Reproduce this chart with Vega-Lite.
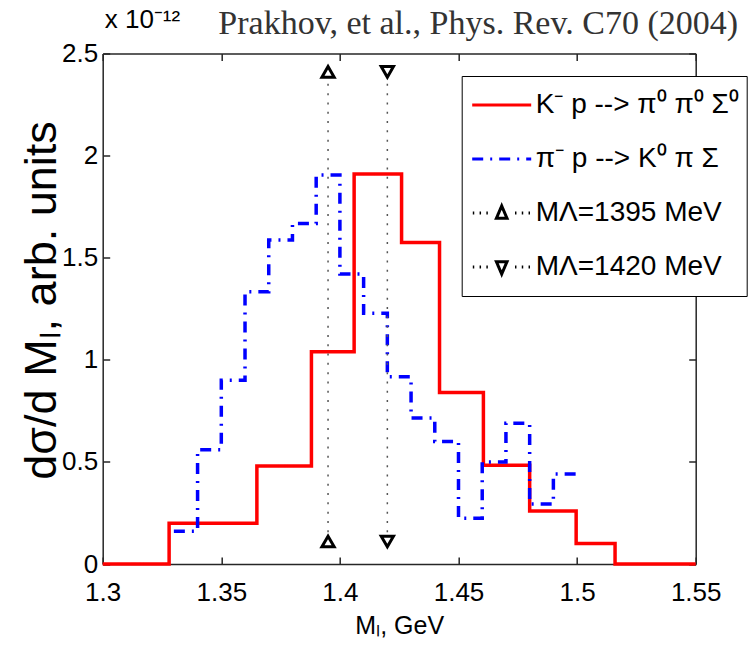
{
  "$schema": "https://vega.github.io/schema/vega-lite/v6.json",
  "width": 593,
  "height": 510.5,
  "autosize": {"type": "none"},
  "padding": {"left": 102.7, "top": 53.5, "right": 56.3, "bottom": 85},
  "background": "white",
  "config": {
    "view": {"stroke": null},
    "font": "Liberation Sans",
    "axis": {
      "grid": false,
      "domainColor": "#262626",
      "domainWidth": 1.5,
      "tickColor": "#262626",
      "tickWidth": 1.5,
      "labelColor": "black",
      "labelFont": "Liberation Sans",
      "labelFontSize": 26,
      "titleFont": "Liberation Sans",
      "titleFontWeight": "normal",
      "titleColor": "black"
    }
  },
  "title": {
    "text": "Prakhov, et al., Phys. Rev. C70 (2004)",
    "font": "Liberation Serif",
    "fontSize": 34,
    "fontWeight": "normal",
    "color": "#333333",
    "anchor": "middle",
    "frame": "group",
    "dx": 79,
    "baseline": "alphabetic",
    "offset": -61
  },
  "datasets": {
    "hist": [
      {"series": "K⁻ p --> π⁰ π⁰ Σ⁰", "x": 1.3, "y": 0},
      {"series": "K⁻ p --> π⁰ π⁰ Σ⁰", "x": 1.328, "y": 0.2},
      {"series": "K⁻ p --> π⁰ π⁰ Σ⁰", "x": 1.365, "y": 0.48},
      {"series": "K⁻ p --> π⁰ π⁰ Σ⁰", "x": 1.388, "y": 1.04},
      {"series": "K⁻ p --> π⁰ π⁰ Σ⁰", "x": 1.406, "y": 1.91},
      {"series": "K⁻ p --> π⁰ π⁰ Σ⁰", "x": 1.426, "y": 1.575},
      {"series": "K⁻ p --> π⁰ π⁰ Σ⁰", "x": 1.442, "y": 0.84},
      {"series": "K⁻ p --> π⁰ π⁰ Σ⁰", "x": 1.4605, "y": 0.483},
      {"series": "K⁻ p --> π⁰ π⁰ Σ⁰", "x": 1.48, "y": 0.26},
      {"series": "K⁻ p --> π⁰ π⁰ Σ⁰", "x": 1.4996, "y": 0.1},
      {"series": "K⁻ p --> π⁰ π⁰ Σ⁰", "x": 1.516, "y": 0},
      {"series": "K⁻ p --> π⁰ π⁰ Σ⁰", "x": 1.55, "y": 0},
      {"series": "π⁻ p --> K⁰ π Σ", "x": 1.33, "y": 0.16},
      {"series": "π⁻ p --> K⁰ π Σ", "x": 1.34, "y": 0.56},
      {"series": "π⁻ p --> K⁰ π Σ", "x": 1.35, "y": 0.9},
      {"series": "π⁻ p --> K⁰ π Σ", "x": 1.36, "y": 1.333},
      {"series": "π⁻ p --> K⁰ π Σ", "x": 1.37, "y": 1.587},
      {"series": "π⁻ p --> K⁰ π Σ", "x": 1.38, "y": 1.668},
      {"series": "π⁻ p --> K⁰ π Σ", "x": 1.39, "y": 1.905},
      {"series": "π⁻ p --> K⁰ π Σ", "x": 1.4, "y": 1.42},
      {"series": "π⁻ p --> K⁰ π Σ", "x": 1.41, "y": 1.228},
      {"series": "π⁻ p --> K⁰ π Σ", "x": 1.42, "y": 0.917},
      {"series": "π⁻ p --> K⁰ π Σ", "x": 1.43, "y": 0.715},
      {"series": "π⁻ p --> K⁰ π Σ", "x": 1.44, "y": 0.6},
      {"series": "π⁻ p --> K⁰ π Σ", "x": 1.45, "y": 0.224},
      {"series": "π⁻ p --> K⁰ π Σ", "x": 1.46, "y": 0.5},
      {"series": "π⁻ p --> K⁰ π Σ", "x": 1.47, "y": 0.689},
      {"series": "π⁻ p --> K⁰ π Σ", "x": 1.48, "y": 0.294},
      {"series": "π⁻ p --> K⁰ π Σ", "x": 1.49, "y": 0.441},
      {"series": "π⁻ p --> K⁰ π Σ", "x": 1.5, "y": 0.441}
    ],
    "vlines": [
      {"series": "MΛ=1395 MeV", "x": 1.395, "y": 0.11},
      {"series": "MΛ=1395 MeV", "x": 1.395, "y": 2.41},
      {"series": "MΛ=1420 MeV", "x": 1.42, "y": 0.11},
      {"series": "MΛ=1420 MeV", "x": 1.42, "y": 2.41}
    ],
    "markers": [
      {"series": "MΛ=1395 MeV", "x": 1.395, "y": 2.41, "dir": "up"},
      {"series": "MΛ=1395 MeV", "x": 1.395, "y": 0.11, "dir": "up"},
      {"series": "MΛ=1420 MeV", "x": 1.42, "y": 2.41, "dir": "down"},
      {"series": "MΛ=1420 MeV", "x": 1.42, "y": 0.11, "dir": "down"}
    ],
    "exponent": [
      {"x": 1.3, "y": 2.5, "label": "x 10⁻¹²"}
    ]
  },
  "resolve": {"axis": {"x": "independent", "y": "independent"}},
  "layer": [
    {
      "data": {"name": "hist"},
      "mark": {"type": "line", "interpolate": "step-after", "strokeWidth": 3.5},
      "encoding": {
        "x": {
          "field": "x", "type": "quantitative",
          "scale": {"domain": [1.3, 1.55], "nice": false, "zero": false},
          "axis": {
            "orient": "bottom", "values": [1.3, 1.35, 1.4, 1.45, 1.5, 1.55], "format": "~g",
            "tickSize": -7, "labelPadding": 22, "labelFlush": false, "labelOverlap": false,
            "title": "Mₗ, GeV", "titleFontSize": 25, "titlePadding": 8
          }
        },
        "y": {
          "field": "y", "type": "quantitative",
          "scale": {"domain": [0, 2.5], "nice": false, "zero": true},
          "axis": {
            "orient": "left", "values": [0, 0.5, 1, 1.5, 2, 2.5], "format": "~g",
            "tickSize": -7, "labelPadding": 12, "labelOverlap": false, "labelFlush": false,
            "title": "dσ/d Mₗ, arb. units", "titleFontSize": 45, "titleX": -38, "titleY": 246.5
          }
        },
        "color": {
          "field": "series", "type": "nominal",
          "scale": {
            "domain": ["K⁻ p --> π⁰ π⁰ Σ⁰", "π⁻ p --> K⁰ π Σ", "MΛ=1395 MeV", "MΛ=1420 MeV"],
            "range": ["#ff0000", "#0000ff", "#000000", "#000000"]
          },
          "legend": {
            "title": null, "orient": "none", "legendX": 359, "legendY": 22.5,
            "strokeColor": "black", "fillColor": "white", "padding": 7,
            "symbolSize": 3481, "symbolStrokeWidth": 3, "symbolType": "stroke",
            "symbolOffset": 2, "clipHeight": 44,
            "labelFont": "Liberation Sans", "labelFontSize": 28, "labelColor": "black",
            "labelLimit": 500, "labelOffset": 3, "rowPadding": 10,
            "encode": {
              "symbols": {
                "update": {
                  "shape": {"signal": "indexof(datum.label, '1395') >= 0 ? 'M-0.98,0h0.05M-0.75,0h0.05M-0.52,0h0.05M0.45,0h0.05M0.68,0h0.05M0.91,0h0.05M-0.18,0.18L0,-0.24L0.18,0.18Z' : indexof(datum.label, '1420') >= 0 ? 'M-0.98,0h0.05M-0.75,0h0.05M-0.52,0h0.05M0.45,0h0.05M0.68,0h0.05M0.91,0h0.05M-0.18,-0.18L0,0.24L0.18,-0.18Z' : 'M-1,0H1'"}
                }
              }
            }
          }
        },
        "strokeDash": {
          "field": "series", "type": "nominal",
          "scale": {
            "domain": ["K⁻ p --> π⁰ π⁰ Σ⁰", "π⁻ p --> K⁰ π Σ", "MΛ=1395 MeV", "MΛ=1420 MeV"],
            "range": [[1, 0], [11, 7, 2, 7], [1, 0], [1, 0]]
          }
        }
      }
    },
    {
      "data": {"name": "vlines"},
      "mark": {"type": "line", "strokeWidth": 1.5, "color": "#555555", "strokeDash": [2, 7.3]},
      "encoding": {
        "x": {
          "field": "x", "type": "quantitative",
          "axis": {"orient": "top", "values": [1.3, 1.35, 1.4, 1.45, 1.5, 1.55], "labels": false, "tickSize": -7, "title": null}
        },
        "y": {
          "field": "y", "type": "quantitative",
          "axis": {"orient": "right", "values": [0, 0.5, 1, 1.5, 2, 2.5], "labels": false, "tickSize": -7, "title": null}
        },
        "detail": {"field": "series", "type": "nominal"}
      }
    },
    {
      "data": {"name": "markers"},
      "mark": {"type": "point", "fill": "white", "stroke": "black", "strokeWidth": 3, "size": 150, "opacity": 1},
      "encoding": {
        "x": {"field": "x", "type": "quantitative", "axis": null},
        "y": {"field": "y", "type": "quantitative", "axis": null},
        "shape": {
          "field": "dir", "type": "nominal",
          "scale": {"domain": ["up", "down"], "range": ["triangle-up", "triangle-down"]},
          "legend": null
        }
      }
    },
    {
      "data": {"name": "exponent"},
      "mark": {"type": "text", "align": "left", "baseline": "alphabetic", "dx": 2, "dy": -26, "fontSize": 26, "font": "Liberation Sans", "color": "black"},
      "encoding": {
        "x": {"field": "x", "type": "quantitative", "axis": null},
        "y": {"field": "y", "type": "quantitative", "axis": null},
        "text": {"field": "label"}
      }
    }
  ]
}
